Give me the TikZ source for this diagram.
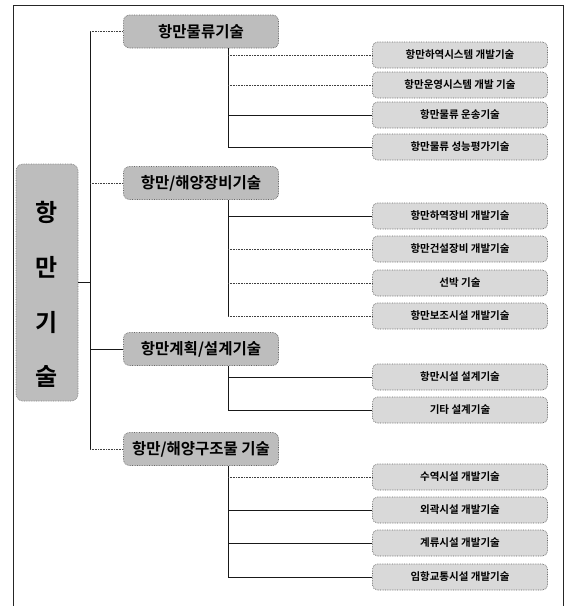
\documentclass[tikz,border=0pt]{standalone}
\usepackage{fontspec}
\newfontfamily\kr{Noto Sans CJK KR}[BoldFont={Noto Sans CJK KR Bold}]
\begin{document}
\begin{tikzpicture}[x=1pt,y=-1pt,
  frame/.style={draw=black!85,line width=0.9pt},
  solidln/.style={draw=black!90,line width=0.7pt},
  dotln/.style={draw=black!75,line width=0.6pt,densely dotted},
  lone/.style={rounded corners=6pt,fill=black!26,draw=black!60,densely dotted,line width=0.7pt,
    minimum width=155pt,minimum height=33pt,inner sep=0pt,
    font=\kr\bfseries\fontsize{15.5}{18}\selectfont},
  ltwo/.style={rounded corners=5pt,fill=black!15,draw=black!60,densely dotted,line width=0.7pt,
    minimum width=175pt,minimum height=26pt,inner sep=0pt,
    font=\kr\bfseries\fontsize{10.5}{12}\selectfont},
  rootbox/.style={rounded corners=7pt,fill=black!26,draw=black!50,densely dotted,line width=0.7pt,
    minimum width=62pt,minimum height=237pt,inner sep=0pt},
  rootch/.style={font=\kr\bfseries\fontsize{24}{26}\selectfont,inner sep=0pt}
]
\useasboundingbox (0,0) rectangle (576,606);
\fill[white] (0,0) rectangle (576,606);
% frame
\draw[frame] (13,606) -- (13,5) -- (563,5) -- (563,606);

% root
\node[rootbox] (root) at (47,282.5) {};
\node[rootch] (c1) at (47,212) {항};
\node[rootch] (c2) at (47,267) {만};
\node[rootch] (c3) at (47,322) {기};
\node[rootch] (c4) at (47,377) {술};

\coordinate (trunk) at (90,0);
\coordinate (sub) at (228,0);

% level 1
\node[lone] (a) at (201,31.5) {항만물류기술};
\node[lone] (b) at (201,183) {항만/해양장비기술};
\node[lone] (c) at (201,349) {항만계획/설계기술};
\node[lone] (d) at (201,449) {항만/해양구조물 기술};

% level 2
\node[ltwo] (a1) at (460,55) {항만하역시스템 개발기술};
\node[ltwo] (a2) at (460,85) {항만운영시스템 개발 기술};
\node[ltwo] (a3) at (460,115) {항만물류 운송기술};
\node[ltwo] (a4) at (460,147) {항만물류 성능평가기술};

\node[ltwo] (b1) at (460,216) {항만하역장비 개발기술};
\node[ltwo] (b2) at (460,249) {항만건설장비 개발기술};
\node[ltwo] (b3) at (460,283) {선박 기술};
\node[ltwo] (b4) at (460,316) {항만보조시설 개발기술};

\node[ltwo] (c1b) at (460,377) {항만시설 설계기술};
\node[ltwo] (c2b) at (460,410) {기타 설계기술};

\node[ltwo] (d1) at (460,477) {수역시설 개발기술};
\node[ltwo] (d2) at (460,510) {외곽시설 개발기술};
\node[ltwo] (d3) at (460,543) {계류시설 개발기술};
\node[ltwo] (d4) at (460,577) {임항교통시설 개발기술};

% trunk
\draw[solidln] (root.east) -- (root.east -| trunk);
\draw[solidln,line width=0.6pt] (trunk |- a.west) -- (trunk |- d.west);
\draw[dotln] (trunk |- a.west) -- (a.west);
\draw[dotln] (trunk |- b.west) -- (b.west);
\draw[solidln] (trunk |- c.west) -- (c.west);
\draw[dotln] (trunk |- d.west) -- (d.west);

% group a
\draw[solidln,line width=0.6pt] (sub |- a.south) -- (sub |- a4.west);
\draw[dotln] (sub |- a1.west) -- (a1.west);
\draw[dotln] (sub |- a2.west) -- (a2.west);
\draw[solidln] (sub |- a3.west) -- (a3.west);
\draw[solidln] (sub |- a4.west) -- (a4.west);

% group b
\draw[solidln,line width=0.6pt] (sub |- b.south) -- (sub |- b4.west);
\draw[solidln] (sub |- b1.west) -- (b1.west);
\draw[dotln] (sub |- b2.west) -- (b2.west);
\draw[dotln] (sub |- b3.west) -- (b3.west);
\draw[dotln] (sub |- b4.west) -- (b4.west);

% group c
\draw[solidln,line width=0.6pt] (sub |- c.south) -- (sub |- c2b.west);
\draw[solidln] (sub |- c1b.west) -- (c1b.west);
\draw[solidln] (sub |- c2b.west) -- (c2b.west);

% group d
\draw[solidln,line width=0.6pt] (sub |- d.south) -- (sub |- d4.west);
\draw[dotln] (sub |- d1.west) -- (d1.west);
\draw[solidln] (sub |- d2.west) -- (d2.west);
\draw[solidln] (sub |- d3.west) -- (d3.west);
\draw[solidln] (sub |- d4.west) -- (d4.west);
\end{tikzpicture}
\end{document}
